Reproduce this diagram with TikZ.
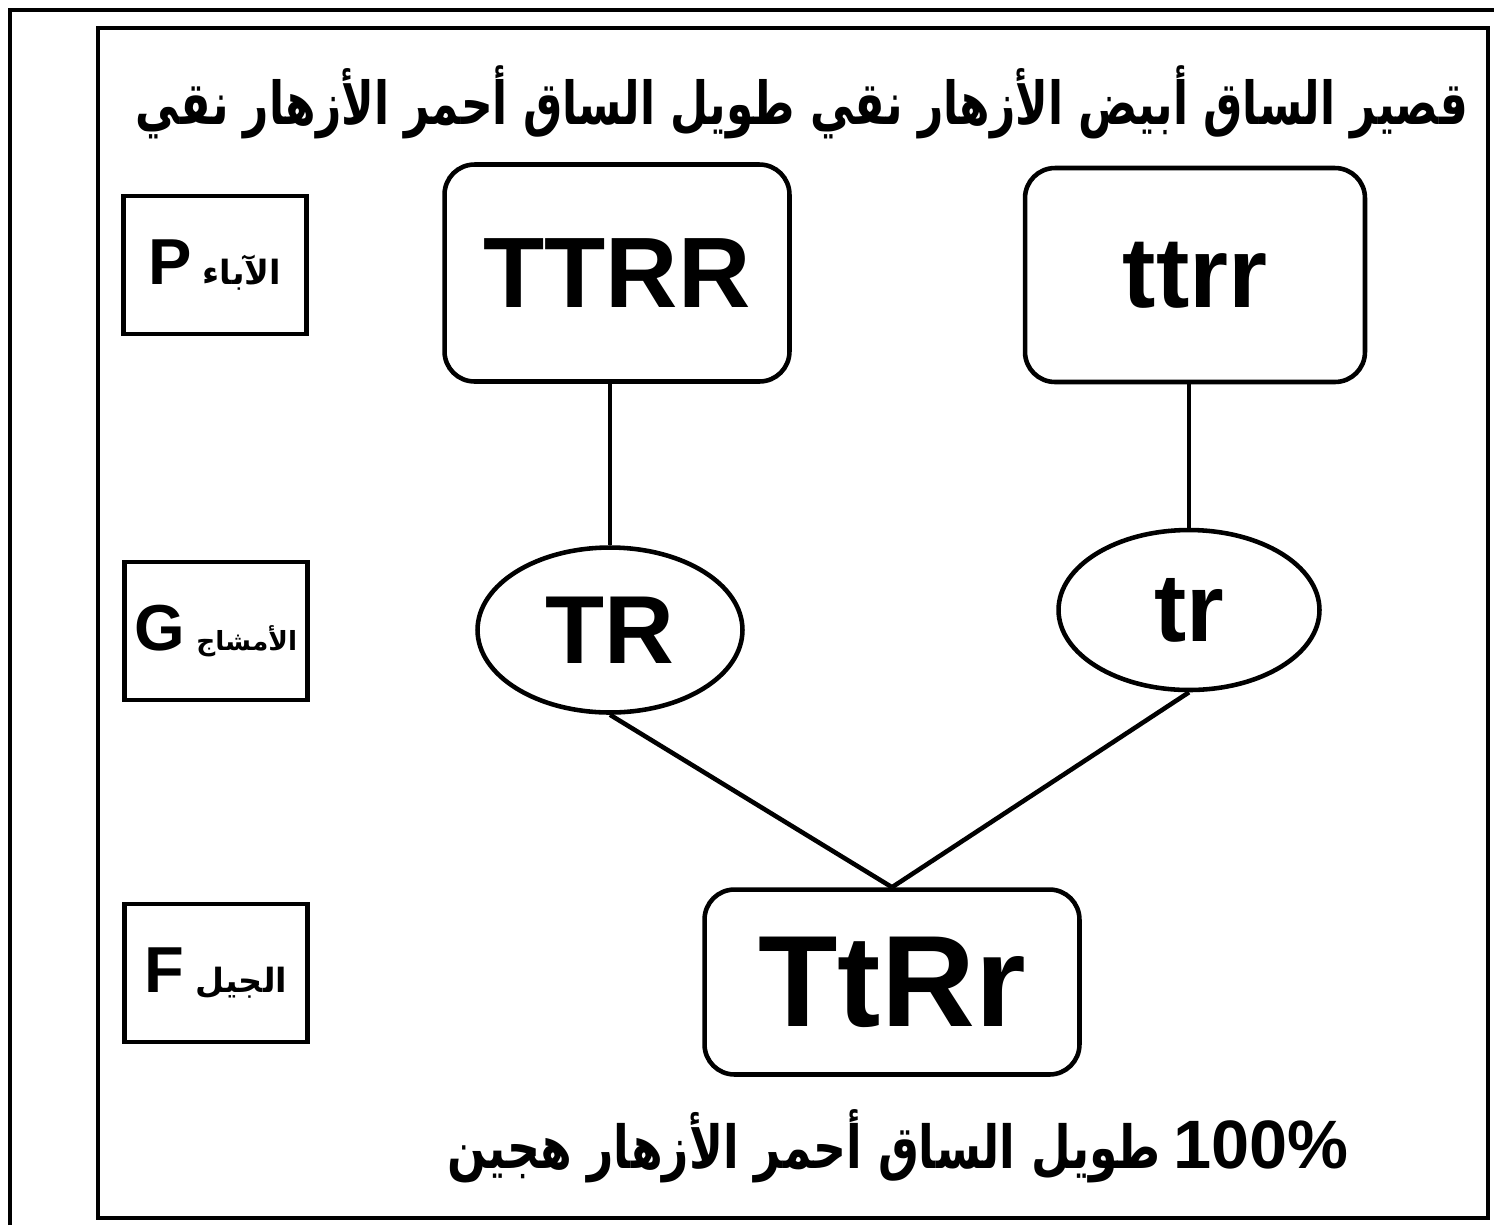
\documentclass[tikz,border=0pt]{standalone}
\usepackage{graphicx}
\usepackage{fontspec}
\setmainfont{Liberation Sans}
\newfontfamily\arabicfont[Script=Arabic]{DejaVu Sans}
\TeXXeTstate=1
\usetikzlibrary{shapes.geometric}

\begin{document}
\begin{tikzpicture}[
    x=0.02cm, y=-0.02cm,
    geno/.style={draw, rounded corners=0.6cm, line width=2.6pt,
      font=\bfseries\fontsize{57}{60}\selectfont, inner sep=0pt},
    gamete/.style={draw, ellipse, line width=2.6pt, inner sep=0pt,
      font=\bfseries\fontsize{55}{58}\selectfont},
    stage/.style={draw, line width=2.8pt, minimum width=3.66cm,
      minimum height=2.76cm, inner sep=0pt},
    link/.style={line width=2.6pt},
  ]
  \useasboundingbox (0,0) rectangle (1494,1225);
  % outer and inner frame
  \draw[line width=2.2pt] (10,1225) -- (10,10) -- (1494,10);
  \draw[line width=2.8pt] (98,28) rectangle (1488,1218);

  % heading
  \node (head) at (802,102) {\scalebox{1}[1.35]{\arabicfont\bfseries\fontsize{25}{30}\selectfont
    \beginR قصير الساق أبيض الأزهار نقي طويل الساق أحمر الأزهار نقي\endR}};

  % stage labels
  \node[stage] (sP) at (215,265)
    {\bfseries\fontsize{37}{40}\selectfont P\,{\arabicfont\fontsize{19}{22}\selectfont\beginR الآباء\endR}};
  \node[stage] (sG) at (216,631)
    {\bfseries\fontsize{37}{40}\selectfont G\,{\arabicfont\fontsize{15}{18}\selectfont\beginR الأمشاج\endR}};
  \node[stage] (sF) at (216,973)
    {\bfseries\fontsize{37}{40}\selectfont F\,{\arabicfont\fontsize{19}{22}\selectfont\beginR الجيل\endR}};

  % parents
  \node[geno, minimum width=6.9cm, minimum height=4.34cm] (TTRR) at (617,273) {TTRR};
  \node[geno, minimum width=6.8cm, minimum height=4.28cm] (ttrr) at (1195,275) {ttrr};
  % gametes
  \node[gamete, minimum width=5.3cm, minimum height=3.3cm] (TR) at (610,630) {TR};
  \node[gamete, minimum width=5.22cm, minimum height=3.2cm] (tr) at (1189,610) {tr};
  % offspring
  \node[geno, minimum width=7.5cm, minimum height=3.7cm,
    font=\bfseries\fontsize{74}{78}\selectfont] (TtRr) at (892,982) {TtRr};

  \draw[link] (TR.north |- TTRR.south) -- (TR.north);
  \draw[link] (tr.north |- ttrr.south) -- (tr.north);
  \draw[link] (TR.south) -- (TtRr.north);
  \draw[link] (tr.south) -- (TtRr.north);

  % result
  \node (res) at (898,1146) {\scalebox{1}[1.3]{\arabicfont\bfseries\fontsize{26}{30}\selectfont
    \beginR طويل الساق أحمر الأزهار هجين\endR}\hspace{0.25cm}{\bfseries\fontsize{39}{42}\selectfont 100\%}};
\end{tikzpicture}
\end{document}
